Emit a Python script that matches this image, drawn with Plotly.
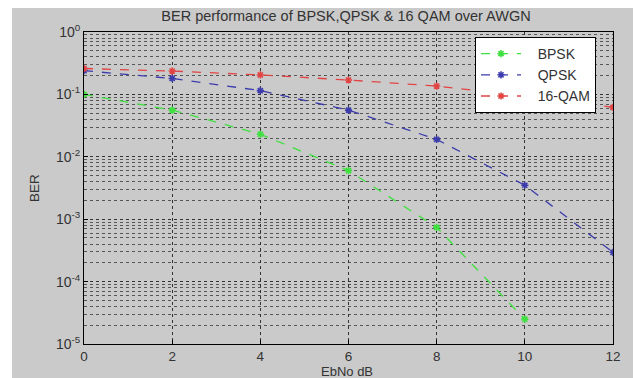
import plotly.graph_objects as go

ebno = [0, 2, 4, 6, 8, 10, 12]
ber_bpsk = [0.1, 0.056, 0.023, 0.006, 0.00074, 0.000025]
ber_qpsk = [0.24, 0.18, 0.115, 0.056, 0.019, 0.0035, 0.000295]
ber_16qam = [0.26, 0.237, 0.205, 0.17, 0.136, 0.095, 0.062]

ytick_vals = [1, 0.1, 0.01, 0.001, 0.0001, 0.00001]
ytick_text = ["10<sup>0</sup>", "10<sup>-1</sup>", "10<sup>-2</sup>",
              "10<sup>-3</sup>", "10<sup>-4</sup>", "10<sup>-5</sup>"]
xtick_vals = [0, 2, 4, 6, 8, 10, 12]

NB = "\u00a0\u00a0\u00a0"
fig = go.Figure()
series = [("BPSK", ebno[:len(ber_bpsk)], ber_bpsk, "#3fe03f"),
          ("QPSK", ebno, ber_qpsk, "#3c3cac"),
          ("16-QAM", ebno, ber_16qam, "#e24444")]
for name, x, y, c in series:
    fig.add_trace(go.Scatter(
        x=x, y=y, name=NB + name, mode="lines+markers",
        line=dict(color=c, width=1.3, dash="dash"),
        marker=dict(symbol="asterisk-open", size=6, color=c,
                    line=dict(color=c, width=1.6)),
    ))

W, H = 633, 378
L, R, T, B = 84, 613, 32, 344
pw, ph = R - L, B - T
def px(xp):
    return (xp - L) / pw
def py(yp):
    return (B - yp) / ph

fig.add_shape(type="rect", xref="paper", yref="paper",
              x0=px(12), x1=px(640), y0=py(385), y1=py(8),
              fillcolor="#cacaca", line=dict(width=0), layer="below")

fig.update_layout(
    width=W, height=H,
    margin=dict(l=L, r=W - R, t=T, b=H - B, pad=0),
    paper_bgcolor="white", plot_bgcolor="white",
    font=dict(family="Liberation Sans, Arial", size=13, color="#333333"),
    title=dict(text="BER performance of BPSK,QPSK & 16 QAM over AWGN",
               x=px(346), xref="paper", xanchor="center",
               y=1 - 16 / H, yref="container", yanchor="middle",
               font=dict(size=14.5, color="#333333")),
    showlegend=True,
    legend=dict(x=px(475), y=py(37), xanchor="left", yanchor="top",
                bgcolor="white", bordercolor="black", borderwidth=1,
                font=dict(size=14, color="#333333"),
                tracegroupgap=0, itemwidth=40),
    xaxis=dict(range=[0, 12], tickvals=xtick_vals, showgrid=True,
               gridcolor="#333333", griddash="dot", gridwidth=1,
               showline=True, linecolor="black", linewidth=1, mirror=True,
               ticks="inside", ticklen=4, tickcolor="black",
               zeroline=False, tickfont=dict(size=13.5, color="#333333")),
    yaxis=dict(type="log", range=[-5, 0], tickvals=ytick_vals,
               ticktext=ytick_text, showgrid=True,
               gridcolor="#333333", griddash="dot", gridwidth=1,
               showline=True, linecolor="black", linewidth=1, mirror=True,
               ticks="inside", ticklen=4, tickcolor="black",
               zeroline=False, tickfont=dict(size=14, color="#333333"),
               minor=dict(dtick="D1", showgrid=True, gridcolor="#555555",
                          griddash="dot", gridwidth=1, ticks="")),
)

fig.add_annotation(text="EbNo dB", xref="paper", yref="paper",
                   x=px(347), y=py(371), showarrow=False,
                   font=dict(size=13, color="#333333"),
                   xanchor="center", yanchor="middle")
fig.add_annotation(text="BER", xref="paper", yref="paper",
                   x=px(34), y=py(188), showarrow=False, textangle=-90,
                   font=dict(size=13.5, color="#333333"),
                   xanchor="center", yanchor="middle")

fig.write_html("out.html")
